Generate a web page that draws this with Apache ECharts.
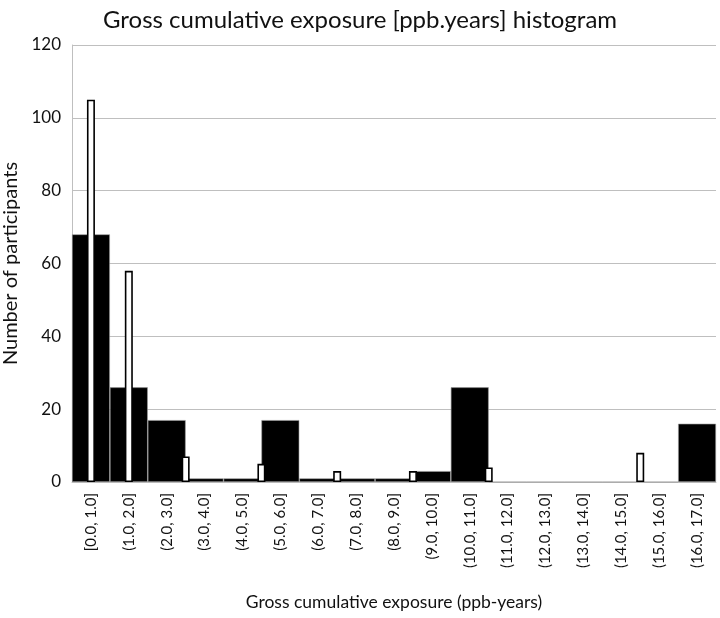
<!DOCTYPE html>
<html>
<head>
<meta charset="utf-8">
<script src="https://cdn.jsdelivr.net/npm/echarts@6/dist/echarts.min.js"></script>
<style>
  html, body { margin: 0; padding: 0; background: #fff; }
  #hist { width: 720px; height: 618px; }
</style>
</head>
<body>
<div id="hist"></div>
<script>
// bins of the histogram
const categories = [
  '[0.0, 1.0]', '(1.0, 2.0]', '(2.0, 3.0]', '(3.0, 4.0]', '(4.0, 5.0]', '(5.0, 6.0]',
  '(6.0, 7.0]', '(7.0, 8.0]', '(8.0, 9.0]', '(9.0, 10.0]', '(10.0, 11.0]', '(11.0, 12.0]',
  '(12.0, 13.0]', '(13.0, 14.0]', '(14.0, 15.0]', '(15.0, 16.0]', '(16.0, 17.0]'
]
// black series, one per bin
const blackCounts = [68, 26, 17, 1, 1, 17, 1, 1, 1, 3, 26, 0, 0, 0, 0, 0, 16]
// white series, positions in bin units (bin i centred on i)
const whitePositions = [0, 1, 2.5, 4.5, 6.5, 8.5, 10.5, 14.5]
const whiteCounts = [105, 58, 7, 5, 3, 3, 4, 8]
const yTicks = [0, 20, 40, 60, 80, 100, 120]

const font = 'Lato, "Open Sans", sans-serif'
let myChart = echarts.init(document.getElementById('hist'))
let option = {
  animation: false,
  title: {
    text: 'Gross cumulative exposure [ppb.years] histogram',
    left: 'center',
    top: 3,
    textStyle: { fontFamily: font, fontSize: 24, fontWeight: 'normal', color: '#111' }
  },
  grid: { left: 72, right: 4, top: 45, bottom: 136, outerBoundsMode: 'none' },
  xAxis: [
    {
      type: 'category',
      data: categories,
      name: 'Gross cumulative exposure (ppb-years)',
      nameLocation: 'middle',
      nameGap: 111,
      nameTextStyle: { fontFamily: font, fontSize: 17.5, color: '#111' },
      axisLine: { lineStyle: { color: '#bfbfbf' } },
      axisTick: { show: false },
      axisLabel: { rotate: 90, fontFamily: font, fontSize: 15, color: '#111', margin: 11, interval: 0 }
    },
    {
      // hidden value axis for the white bars
      type: 'value',
      min: -0.5,
      max: categories.length - 0.5,
      show: false,
      splitLine: { show: false }
    }
  ],
  yAxis: {
    type: 'value',
    min: yTicks[0],
    max: yTicks[yTicks.length - 1],
    interval: 20,
    name: 'Number of participants',
    nameLocation: 'middle',
    nameGap: 49,
    nameTextStyle: { fontFamily: font, fontSize: 20, color: '#111' },
    axisLine: { show: true, onZero: false, lineStyle: { color: '#bfbfbf' } },
    axisTick: { show: false },
    axisLabel: { fontFamily: font, fontSize: 17, color: '#111', margin: 11 },
    splitLine: { lineStyle: { color: '#bfbfbf' } }
  },
  series: [
    {
      type: 'bar',
      xAxisIndex: 0,
      data: blackCounts,
      barWidth: '100%',
      itemStyle: { color: '#000', borderColor: '#9a9a9a', borderWidth: 0.6 }
    },
    {
      type: 'bar',
      xAxisIndex: 1,
      data: whitePositions.map((x, i) => [x, whiteCounts[i]]),
      barWidth: 8,
      z: 3,
      itemStyle: { color: '#fff', borderColor: '#000', borderWidth: 1.6 }
    }
  ]
}
myChart.setOption(option, true)
</script>
</body>
</html>
